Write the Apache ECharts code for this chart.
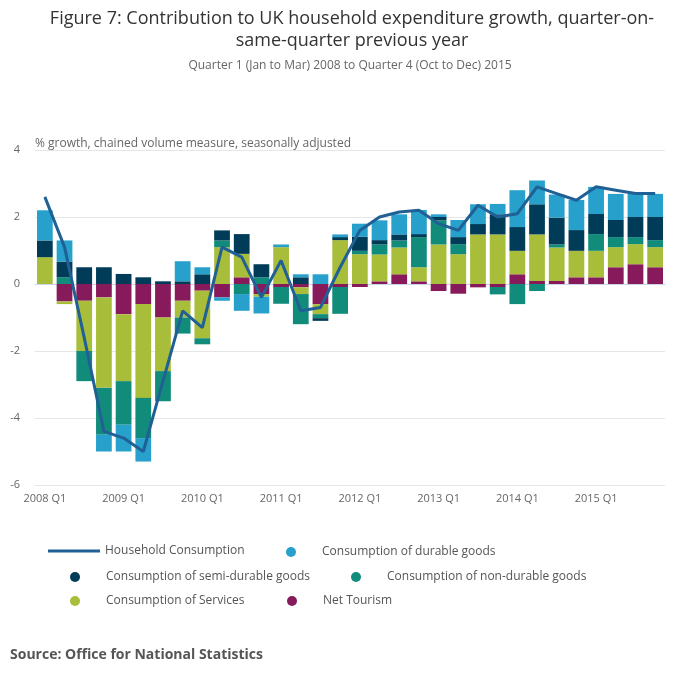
<!DOCTYPE html>
<html>
<head>
<meta charset="utf-8">
<script src="https://cdn.jsdelivr.net/npm/echarts@6/dist/echarts.min.js"></script>
<style>
  html, body { margin: 0; padding: 0; background: #fff; }
  #chart { width: 700px; height: 682px; }
</style>
</head>
<body>
<div id="chart"></div>
<script>
var quarters = [];
for (var y = 2008; y <= 2015; y++) {
  for (var q = 1; q <= 4; q++) quarters.push(y + ' Q' + q);
}

var netTourism = [0, -0.52, -0.5, -0.4, -0.9, -0.6, -1.0, -0.5, -0.2, -0.4, 0.2, -0.3, -0.09, -0.1, -0.6, -0.09,
  -0.09, 0.08, 0.29, 0.08, -0.21, -0.29, -0.1, -0.09, 0.29, 0.09, 0.09, 0.2, 0.2, 0.5, 0.59, 0.5];
var services = [0.8, -0.08, -1.5, -2.7, -2.0, -2.8, -1.6, -0.5, -1.42, 1.1, 0.7, -0.08, 1.1, -0.2, -0.3, 1.31,
  0.89, 0.8, 0.8, 0.42, 1.18, 0.89, 1.48, 1.48, 0.7, 1.39, 1.0, 0.79, 0.79, 0.6, 0.6, 0.6];
var nonDurable = [0, 0.2, -0.9, -1.4, -1.3, -1.2, -0.9, -0.48, -0.18, 0.2, -0.3, 0.2, -0.5, -0.9, -0.12, -0.8,
  0.1, 0.3, 0.21, 0.9, 0.72, 0.3, 0, -0.22, -0.6, -0.21, 0.09, 0, 0.5, 0.3, 0.21, 0.21];
var semiDurable = [0.5, 0.47, 0.5, 0.5, 0.3, 0.2, 0.08, 0.08, 0.29, 0.3, 0.59, 0.39, 0, 0.2, -0.08, 0.09,
  0.42, 0.13, 0.18, 0.09, 0.1, 0.21, 0.31, 0.6, 0.71, 0.9, 0.8, 0.62, 0.6, 0.51, 0.6, 0.69];
var durable = [0.9, 0.63, 0, -0.5, -0.8, -0.7, 0, 0.6, 0.21, -0.1, -0.5, -0.5, 0.08, 0.09, 0.29, 0.08,
  0.39, 0.59, 0.6, 0.72, 0.08, 0.51, 0.59, 0.31, 1.1, 0.71, 0.69, 0.9, 0.81, 0.78, 0.69, 0.69];
var household = [2.6, 1.1, -1.6, -4.4, -4.6, -5.0, -2.9, -0.8, -1.3, 1.1, 0.8, -0.4, 0.7, -0.8, -0.7, 0.5,
  1.6, 2.0, 2.15, 2.2, 1.8, 1.6, 2.35, 2.0, 2.1, 2.9, 2.7, 2.5, 2.9, 2.8, 2.7, 2.7];

var yTicks = { min: -6, max: 4, step: 2 };

var FONT = '"Open Sans", "Noto Sans", sans-serif';

var chart = echarts.init(document.getElementById('chart'));

function legendAt(name, left, top, icon, h) {
  return {
    data: [name],
    left: left,
    top: top,
    padding: 0,
    icon: icon,
    itemWidth: 52,
    itemHeight: h,
    itemGap: 0,
    selectedMode: false,
    textStyle: { color: '#555', fontSize: 12, fontFamily: FONT }
  };
}

function barSeries(name, data, color) {
  return {
    name: name,
    type: 'bar',
    stack: 'total',
    data: data,
    barCategoryGap: '20%',
    itemStyle: { color: color },
    emphasis: { disabled: true }
  };
}

chart.setOption({
  animation: false,
  title: [{
    text: 'Figure 7: Contribution to UK household expenditure growth, quarter-on-\nsame-quarter previous year',
    left: 352, top: 8, padding: 0, textAlign: 'center',
    textStyle: { color: '#333', fontSize: 18, fontWeight: 'normal', fontFamily: FONT, lineHeight: 22 }
  }, {
    text: 'Quarter 1 (Jan to Mar) 2008 to Quarter 4 (Oct to Dec) 2015',
    left: 350, top: 60, padding: 0, textAlign: 'center',
    textStyle: { color: '#666', fontSize: 12, fontWeight: 'normal', fontFamily: FONT }
  }, {
    text: '% growth, chained volume measure, seasonally adjusted',
    left: 35, top: 138, padding: 0,
    textStyle: { color: '#666', fontSize: 12, fontWeight: 'normal', fontFamily: FONT }
  }, {
    text: 'Source: Office for National Statistics',
    left: 10, top: 648, padding: 0,
    textStyle: { color: '#555', fontSize: 14, fontWeight: 'bold', fontFamily: FONT }
  }],
  legend: [
    legendAt('Household Consumption', 48, 545, 'rect', 3),
    legendAt('Consumption of durable goods', 286, 546, 'circle', 10),
    legendAt('Consumption of semi-durable goods', 70, 571, 'circle', 10),
    legendAt('Consumption of non-durable goods', 351, 571, 'circle', 10),
    legendAt('Consumption of Services', 70, 595, 'circle', 10),
    legendAt('Net Tourism', 287, 595, 'circle', 10)
  ],
  grid: { left: 35, right: 35, top: 150, bottom: 197 },
  xAxis: {
    type: 'category',
    data: quarters,
    axisLine: { lineStyle: { color: '#ccd6eb' } },
    axisTick: { interval: 3, alignWithLabel: true, length: 9, lineStyle: { color: '#ccd6eb' } },
    axisLabel: { interval: 3, color: '#666', fontSize: 11, fontFamily: FONT, margin: 8 }
  },
  yAxis: {
    type: 'value',
    min: yTicks.min, max: yTicks.max, interval: yTicks.step,
    axisLine: { show: false },
    axisTick: { show: false },
    splitLine: { lineStyle: { color: '#e6e6e6' } },
    axisLabel: { color: '#666', fontSize: 11, fontFamily: FONT, margin: 15 }
  },
  series: [
    barSeries('Net Tourism', netTourism, '#871a5b'),
    barSeries('Consumption of Services', services, '#a8bd3a'),
    barSeries('Consumption of non-durable goods', nonDurable, '#118c7b'),
    barSeries('Consumption of semi-durable goods', semiDurable, '#003c57'),
    barSeries('Consumption of durable goods', durable, '#27a0cc'),
    {
      name: 'Household Consumption',
      type: 'line',
      data: household,
      symbol: 'none',
      z: 5,
      lineStyle: { color: '#206095', width: 3 },
      itemStyle: { color: '#206095' },
      emphasis: { disabled: true }
    }
  ]
});
</script>
</body>
</html>
